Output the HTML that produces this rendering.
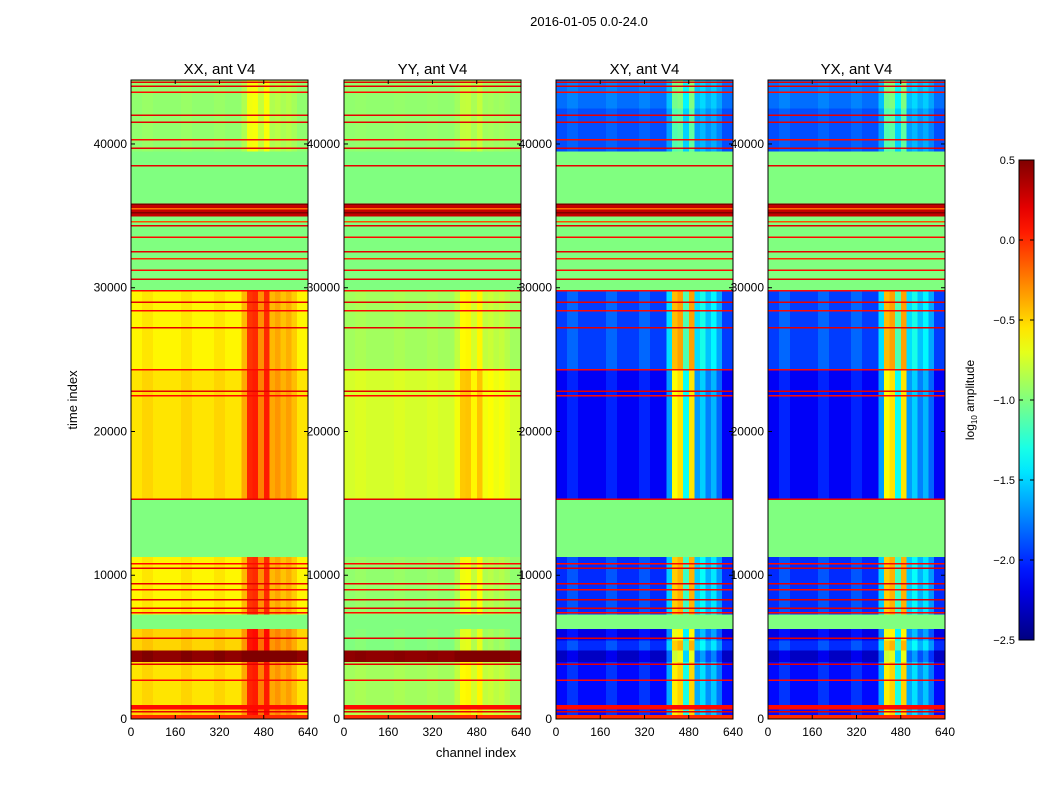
<!DOCTYPE html>
<html><head><meta charset="utf-8">
<style>
body{margin:0;background:#fff;}
svg{font-family:"Liberation Sans",sans-serif;}
</style></head>
<body>
<svg id="fig" width="1050" height="800" viewBox="0 0 1050 800">
<rect width="1050" height="800" fill="#fff"/>
<text x="589" y="26" font-size="13" text-anchor="middle">2016-01-05 0.0-24.0</text>
<text x="476" y="757" font-size="13" text-anchor="middle">channel index</text>
<text transform="translate(77,400) rotate(-90)" font-size="13" text-anchor="middle">time index</text>
<g id="panels"></g>
<g id="cbar"></g>
</svg>
<script>
const panelTitles = ["XX, ant V4","YY, ant V4","XY, ant V4","YX, ant V4"];
const bandStart = [0,300,700,1000,4000,4800,5500,6300,7300,11300,15300,24300,29800,30600,35000,35900,38400,39500,42500];
const bandEnd   = [300,700,1000,4000,4800,5500,6300,7300,11300,15300,24300,29800,30600,35000,35900,38400,39500,42500,44450];
const levelXX = [0.0,-0.5,0.1,-0.55,0.45,-0.5,-0.5,-1.0,-0.6,-1.0,-0.55,-0.6,-1.0,-1.0,0.3,-1.0,-1.0,-0.95,-0.95];
const levelYY = [0.0,-0.85,0.1,-0.9,0.45,-1.0,-1.0,-1.0,-0.95,-1.0,-0.75,-0.9,-1.0,-1.0,0.3,-1.0,-1.0,-0.95,-0.95];
const levelXY = [0.0,-2.1,0.1,-2.1,-2.3,-2.0,-2.2,-1.0,-2.0,-1.0,-2.15,-1.95,-1.0,-1.0,0.3,-1.0,-1.0,-1.9,-1.8];
const levelYX = [0.0,-2.1,0.1,-2.1,-2.3,-2.0,-2.2,-1.0,-2.0,-1.0,-2.15,-1.95,-1.0,-1.0,0.3,-1.0,-1.0,-1.9,-1.8];
const bandActivity = [0,1,0,1,1,1,1,0,1,0,1,1,0,0,0,0,0,0.5,0.5];
const panelGain = [0.6,0.3,1.6,1.6];
const channelProfile = [0,0,0.08,0.08,0,0,0,0,0,0.08,0.08,0,0,0,0,0.08,0.08,0,0,0,0.3,0.95,1.0,0.5,1.0,0.3,0.4,0.25,0.35,0.2,0,0];
const lineTimes = [500,2700,3800,5600,7400,7700,8300,9000,9400,10500,10800,15300,22500,22800,24300,27200,28400,29000,29800,30600,31200,32000,32500,33500,34300,34600,35200,35500,35800,38500,39700,40300,41500,42000,43600,44000,44300];
const lineValues = [0.2,0.1,0.2,0.2,0.1,0.2,0.2,0.1,0.2,0.2,0.1,0.2,0.1,0.2,0.1,0.2,0.1,0.2,0.1,0.2,0.1,0.0,0.2,0.1,0.2,-0.1,0.5,-0.2,0.5,0.2,0.2,0.1,0.2,0.2,0.1,0.2,0.2];
const yTicks = [0,10000,20000,30000,40000];
const xTicks = [0,160,320,480,640];
const cbarTicks = [0.5,0.0,-0.5,-1.0,-1.5,-2.0,-2.5];

const NS="http://www.w3.org/2000/svg";
const panelX=[131,344,556,768], PW=177, PT=80, PB=719, TMAX=44450, CMAX=640;
const VMIN=-2.5, VMAX=0.5;
const levels=[levelXX,levelYY,levelXY,levelYX];
function yScale(t){return PB-(t/TMAX)*(PB-PT);}
function xScale(p,c){return panelX[p]+(c/CMAX)*PW;}
function jet(v){
  let x=(v-VMIN)/(VMAX-VMIN); x=Math.max(0,Math.min(1,x));
  const f=(a)=>Math.max(0,Math.min(1,1.5-Math.abs(4*x-a)));
  return `rgb(${Math.round(255*f(3))},${Math.round(255*f(2))},${Math.round(255*f(1))})`;
}
function mk(tag,attrs,parent){const e=document.createElementNS(NS,tag);for(const k in attrs)e.setAttribute(k,attrs[k]);parent.appendChild(e);return e;}
const G=document.getElementById('panels');
const binW=CMAX/channelProfile.length;
for(let p=0;p<4;p++){
  const g=mk('g',{'shape-rendering':'crispEdges'},G);
  
  
  for(let b=0;b<bandStart.length;b++){
    const y0=yScale(bandEnd[b]), y1=yScale(bandStart[b]);
    for(let k=0;k<channelProfile.length;k++){
      const v=levels[p][b]+bandActivity[b]*panelGain[p]*channelProfile[k];
      const x0=xScale(p,k*binW), x1=xScale(p,(k+1)*binW);
      const r=mk('rect',{x:x0,y:y0,width:x1-x0+0.5,height:y1-y0+0.5,fill:jet(v)},g);
      
      
    }
  }
  for(let i=0;i<lineTimes.length;i++){
    const r=mk('rect',{x:xScale(p,0),y:yScale(lineTimes[i])-0.75,width:PW,height:1.5,fill:jet(lineValues[i])},g);
    
    
  }
  const fr=mk('rect',{x:panelX[p],y:PT,width:PW,height:PB-PT,fill:'none',stroke:'#000','stroke-width':1},G);
  
  
  const tt=mk('text',{x:panelX[p]+PW/2,y:74,'font-size':15,'text-anchor':'middle'},G);
  tt.textContent=panelTitles[p];
  
  
  yTicks.forEach(t=>{
    const y=yScale(t);
    mk('line',{x1:panelX[p],x2:panelX[p]+4,y1:y,y2:y,stroke:'#000'},G);
    mk('line',{x1:panelX[p]+PW,x2:panelX[p]+PW-4,y1:y,y2:y,stroke:'#000'},G);
    const l=mk('text',{x:panelX[p]-4,y:y+4,'font-size':12,'text-anchor':'end'},G);
    l.textContent=t;
    
    
  });
  xTicks.forEach(c=>{
    const x=xScale(p,c);
    mk('line',{x1:x,x2:x,y1:PB,y2:PB-4,stroke:'#000'},G);
    mk('line',{x1:x,x2:x,y1:PT,y2:PT+4,stroke:'#000'},G);
    const l=mk('text',{x:x,y:PB+17,'font-size':12,'text-anchor':'middle'},G);
    l.textContent=c;
    
    
  });
}
const C=document.getElementById('cbar');
const cbX=1019,cbW=15,cbT=160,cbB=640;
const defs=mk('defs',{},C);
const grad=mk('linearGradient',{id:'jetg',x1:0,y1:1,x2:0,y2:0},defs);
for(let i=0;i<=20;i++){mk('stop',{offset:i/20,'stop-color':jet(VMIN+(VMAX-VMIN)*i/20)},grad);}
const cb=mk('rect',{x:cbX,y:cbT,width:cbW,height:cbB-cbT,fill:'url(#jetg)',stroke:'#000'},C);


cbarTicks.forEach(v=>{
  const y=cbB-(v-VMIN)/(VMAX-VMIN)*(cbB-cbT);
  mk('line',{x1:cbX+cbW-4,x2:cbX+cbW,y1:y,y2:y,stroke:'#000'},C);
  mk('line',{x1:cbX,x2:cbX+4,y1:y,y2:y,stroke:'#000'},C);
  const l=mk('text',{x:cbX-4,y:y+4,'font-size':11,'text-anchor':'end'},C);
  l.textContent=v.toFixed(1).replace('-','\u2212');
  
  
});
const cl=mk('text',{transform:'translate(974,400) rotate(-90)','font-size':12,'text-anchor':'middle'},C);
cl.innerHTML='log<tspan font-size="8" dy="3">10</tspan><tspan dy="-3"> amplitude</tspan>';


</script>
</body></html>
